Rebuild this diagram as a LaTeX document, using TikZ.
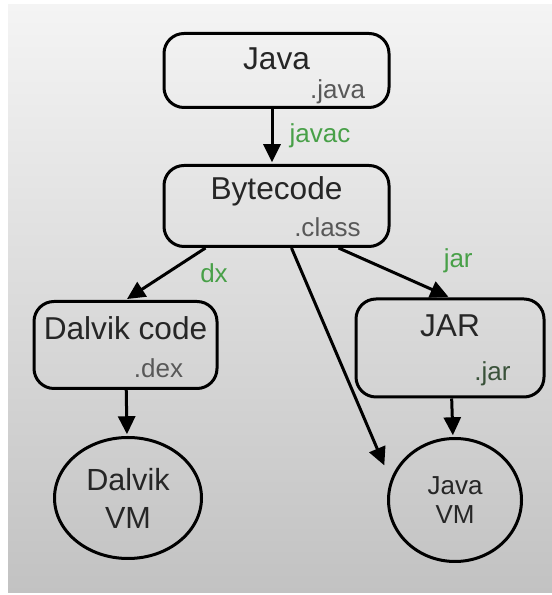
\documentclass[tikz,border=0pt]{standalone}
\usepackage{fontspec}
\setmainfont{Liberation Sans}
\usetikzlibrary{positioning,shapes.geometric,arrows.meta}

\definecolor{bgtop}{RGB}{244,244,244}
\definecolor{bgbot}{RGB}{194,194,194}
\definecolor{ink}{RGB}{38,38,38}
\definecolor{extgray}{RGB}{88,88,88}
\definecolor{jargreen}{RGB}{58,82,58}
\definecolor{toolgreen}{RGB}{72,160,72}

\tikzset{
  box/.style={draw=black, line width=0.06cm, rounded corners=0.4cm, inner sep=0pt},
  vm/.style={draw=black, line width=0.06cm, ellipse, inner sep=0pt, align=center, text=ink},
  title/.style={text=ink, font=\fontsize{18}{21}\selectfont, inner sep=0pt, anchor=base},
  ext/.style={text=extgray, font=\fontsize{14.8}{18}\selectfont, inner sep=0pt, anchor=base},
  tool/.style={text=toolgreen, font=\fontsize{14.8}{18}\selectfont, inner sep=0pt, anchor=base},
}

\begin{document}
\begin{tikzpicture}[>={Triangle[length=0.36cm,width=0.34cm]}, line width=0.06cm, shorten >= 1pt]
    % background
    \fill[white] (0,0) rectangle (11.04,11.9);
    \shade[top color=bgtop, bottom color=bgbot] (0.16,0.04) rectangle (11.04,11.8);
    \useasboundingbox (0,0) rectangle (11.04,11.9);

    % boxes
    \node[box, minimum width=4.5cm, minimum height=1.48cm] (java) at (5.53, 10.49) {};
    \node[box, minimum width=4.5cm, minimum height=1.62cm] (bytecode) at (5.53, 7.78) {};
    \node[box, minimum width=3.66cm, minimum height=1.74cm] (dalvik_code) at (2.51, 5.0) {};
    \node[box, minimum width=3.76cm, minimum height=1.96cm] (jar) at (9.0, 4.94) {};
    \node[vm, minimum width=2.94cm, minimum height=2.42cm,
          font=\fontsize{17.4}{21.6}\selectfont] (dalvik_vm) at (2.56, 1.94) {Dalvik\\VM};
    \node[vm, minimum width=2.66cm, minimum height=2.46cm,
          font=\fontsize{14.8}{17}\selectfont] (java_vm) at (9.1, 1.9) {Java\\VM};

    % texts in the boxes
    \node[title] (java_t) at ([yshift=0.01cm]java.center) {Java};
    \node[ext] (java_x) at ([shift={(-1.06,0.2)}]java.south east) {.java};
    \node[title] (bytecode_t) at ([yshift=0.12cm]bytecode.center) {Bytecode};
    \node[ext] (bytecode_x) at ([shift={(-1.26,0.22)}]bytecode.south east) {.class};
    \node[title] (dalvik_code_t) at ([yshift=0.1cm]dalvik_code.center) {Dalvik code};
    \node[ext] (dalvik_code_x) at ([shift={(-1.2,0.24)}]dalvik_code.south east) {.dex};
    \node[title] (jar_t) at ([yshift=0.22cm]jar.center) {JAR};
    \node[ext, text=jargreen] (jar_x) at ([shift={(-1.06,0.36)}]jar.south east) {.jar};

    \coordinate (vm_in) at (7.7, 2.56);

    \path[->]
    ([xshift=-0.09cm]java.south)
          edge node[tool, pos=0.5, xshift=0.96cm, yshift=-0.13cm] {javac} ([xshift=-0.09cm]bytecode.north)
    ([xshift=0.86cm]bytecode.south west)
          edge node[tool, pos=0.3, xshift=0.65cm, yshift=-0.38cm] {dx} (dalvik_code.north)
    ([xshift=-1.04cm]bytecode.south east)
          edge node[tool, pos=0.8, xshift=0.61cm, yshift=0.4cm] {jar} (jar.north)
    ([xshift=0.3cm]bytecode.south) edge (vm_in)
    (dalvik_code) edge (dalvik_vm)
    (jar) edge (java_vm);
\end{tikzpicture}
\end{document}
